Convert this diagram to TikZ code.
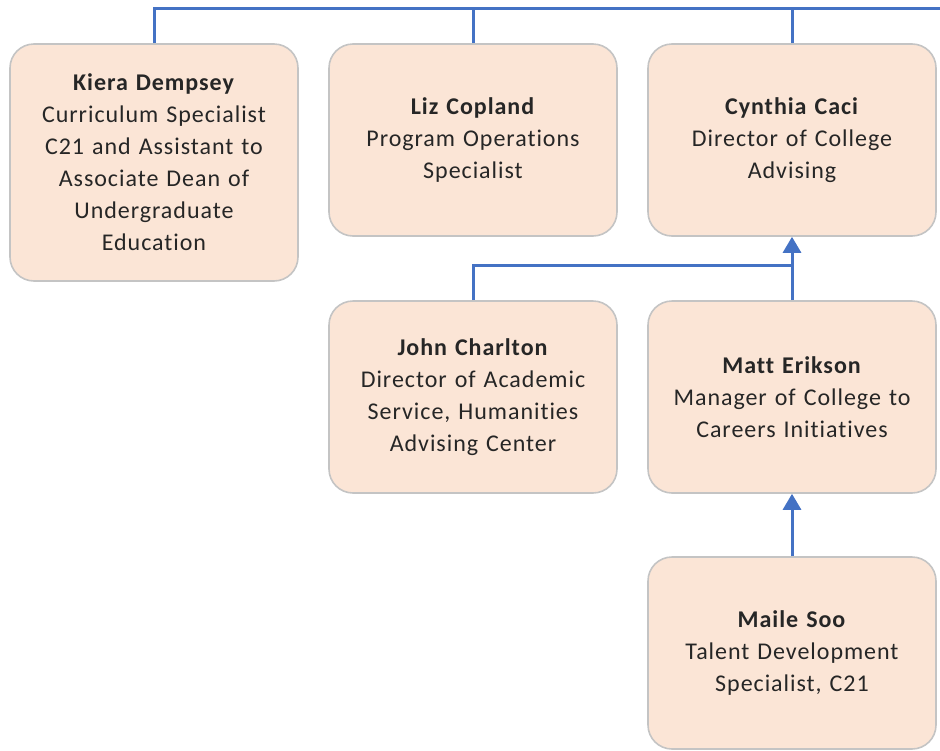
\documentclass[tikz,border=0pt]{standalone}
\usepackage{fontspec}
\setmainfont{Carlito}[LetterSpace=4,Ligatures=NoCommon]
\usepackage{tikz}
\usetikzlibrary{arrows.meta,positioning}
\definecolor{boxfill}{HTML}{FBE5D6}
\definecolor{boxline}{HTML}{C4C4C4}
\definecolor{linkblue}{HTML}{4472C4}
\definecolor{txt}{HTML}{262626}
\tikzset{x=1pt,y=-1pt,
  person/.style={draw=boxline,line width=1.6pt,fill=boxfill,rounded corners=24pt,
    minimum width=288pt,minimum height=192pt,text width=276pt,align=center,
    text=txt,font=\fontsize{24}{32}\selectfont},
  link/.style={draw=linkblue,line width=3pt},
  report/.style={link,-{Triangle[width=18pt,length=16pt]}}}

\begin{document}
\begin{tikzpicture}
    \useasboundingbox (0,0) rectangle (940,750);
    \node[person,minimum height=237pt] (kiera) at (154,162.5) {\textbf{Kiera Dempsey}\\Curriculum Specialist\\C21 and Assistant to\\Associate Dean of\\Undergraduate\\Education};
    \node[person] (liz) at (473,140) {\textbf{Liz Copland}\\Program Operations\\Specialist};
    \node[person] (cynthia) at (792,140) {\textbf{Cynthia Caci}\\Director of College\\Advising};
    \node[person] (john) at (473,397) {\textbf{John Charlton}\\Director of Academic\\Service, Humanities\\Advising Center};
    \node[person] (matt) at (792,397) {\textbf{Matt Erikson}\\Manager of College to\\Careers Initiatives};
    \node[person] (maile) at (792,653) {\textbf{Maile Soo}\\Talent Development\\Specialist, C21};
    \coordinate (topend) at (940,8);
    \draw[link] (kiera.north) |- (topend);
    \draw[link] (liz.north) -- (liz.north |- topend);
    \draw[link] (cynthia.north) -- (cynthia.north |- topend);
    \draw[link] (john.north) |- (matt.north |- 0,265);
    \draw[report] (matt.north) -- (cynthia.south);
    \draw[report] (maile.north) -- (matt.south);
\end{tikzpicture}
\end{document}
